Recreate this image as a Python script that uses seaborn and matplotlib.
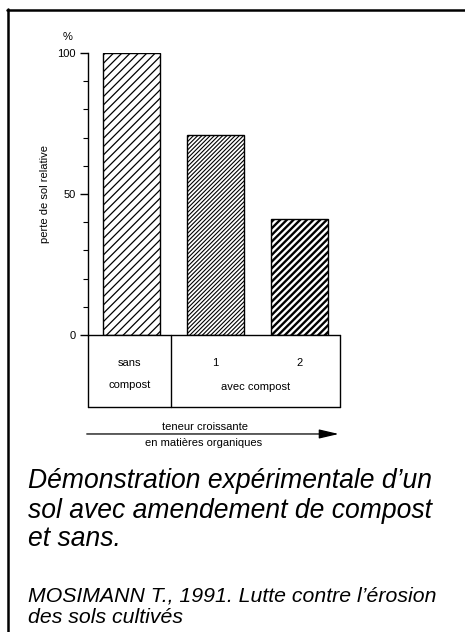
import matplotlib.pyplot as plt
import seaborn as sns
from matplotlib.lines import Line2D
from matplotlib.transforms import blended_transform_factory

# data
groups = ["sans compost", "avec compost 1", "avec compost 2"]
loss_pct = [100, 71, 41]
hatches = ["////", "////////", "/////"]
hatch_widths = [0.9, 0.8, 1.7]
yticks_major = [0, 50, 100]
yticks_minor = [10, 20, 30, 40, 60, 70, 80, 90]

caption_lines = ["Démonstration expérimentale d’un",
                 "sol avec amendement de compost",
                 "et sans."]
source_lines = ["MOSIMANN T., 1991. Lutte contre l’érosion",
                "des sols cultivés"]


def main() -> None:
    sns.set_style("white")
    plt.rcParams["font.family"] = ["Liberation Sans", "DejaVu Sans"]
    for key in ["text.color", "axes.labelcolor", "xtick.color", "ytick.color"]:
        plt.rcParams[key] = "black"

    fig = plt.figure(figsize=(4.65, 6.32), dpi=100)
    ax = fig.add_axes([88 / 465, 1 - 335 / 632, 252 / 465, 282 / 632])

    sns.barplot(x=groups, y=loss_pct, ax=ax, width=0.68, color="white",
                edgecolor="black", linewidth=1.0)
    for patch, h, hw in zip(ax.patches, hatches, hatch_widths):
        patch.set_facecolor("white")
        patch.set_hatch(h)
        try:
            patch.set_hatch_linewidth(hw)
        except AttributeError:
            pass

    ax.set_xlim(-0.52, 2.48)
    ax.set_ylim(0, 100)
    for side in ["top", "right", "bottom"]:
        ax.spines[side].set_visible(False)
    ax.spines["left"].set_linewidth(1.0)
    ax.spines["left"].set_color("black")
    ax.set_xticks([])
    ax.set_yticks(yticks_major)
    ax.set_yticks(yticks_minor, minor=True)
    ax.tick_params(axis="y", which="major", length=6, width=1, direction="out",
                   labelsize=8, pad=3, left=True)
    ax.tick_params(axis="y", which="minor", length=3.5, width=0.8, direction="out",
                   left=True)
    ax.set_ylabel("perte de sol relative", fontsize=8)
    ax.yaxis.set_label_coords(-0.151, 0.5)
    ax.text(-0.083, 1.057, "%", transform=ax.transAxes, fontsize=8,
            ha="center", va="center")

    # category table under the bars
    tr = blended_transform_factory(ax.transData, ax.transAxes)
    x_left, x_div, x_right = -0.52, 0.47, 2.48
    y_top, y_bot = 0.0, -0.255
    box_kw = dict(color="black", lw=1.0, clip_on=False, transform=tr)
    ax.plot([x_left, x_right], [y_top, y_top], **box_kw)
    ax.plot([x_left, x_right], [y_bot, y_bot], **box_kw)
    ax.plot([x_left, x_left], [y_top, y_bot], **box_kw)
    ax.plot([x_right, x_right], [y_top, y_bot], **box_kw)
    ax.plot([x_div, x_div], [y_top, y_bot], **box_kw)

    txt_kw = dict(transform=tr, fontsize=8, ha="center", va="center")
    ax.text((x_left + x_div) / 2, -0.099, "sans", **txt_kw)
    ax.text((x_left + x_div) / 2, -0.177, "compost", **txt_kw)
    ax.text(1, -0.099, "1", **txt_kw)
    ax.text(2, -0.099, "2", **txt_kw)
    ax.text((x_div + x_right) / 2, -0.184, "avec compost", **txt_kw)

    # arrow: increasing organic matter
    ax.annotate("", xy=(0.995, -0.351), xytext=(-0.005, -0.351),
                xycoords="axes fraction", textcoords="axes fraction",
                arrowprops=dict(arrowstyle="-|>,head_length=1.2,head_width=0.28",
                                lw=0.9, color="black", mutation_scale=10,
                                shrinkA=0, shrinkB=0),
                annotation_clip=False)
    ax.text(0.464, -0.326, "teneur croissante", transform=ax.transAxes,
            fontsize=8, ha="center", va="center")
    ax.text(0.458, -0.383, "en matières organiques", transform=ax.transAxes,
            fontsize=8, ha="center", va="center")

    # caption and source, one text per line to place the baselines
    for line, base in zip(caption_lines, [488, 518, 546]):
        fig.text(28 / 465, 1 - base / 632, line, fontsize=19.1, style="italic",
                 ha="left", va="baseline")
    for line, base in zip(source_lines, [601, 623]):
        fig.text(28 / 465, 1 - base / 632, line, fontsize=15.3, style="italic",
                 ha="left", va="baseline")

    # frame of the scanned page (left and top edges visible)
    fig.add_artist(Line2D([8 / 465, 8 / 465], [0, 1 - 9 / 632],
                          transform=fig.transFigure, color="black", lw=1.8))
    fig.add_artist(Line2D([7 / 465, 1], [1 - 9.5 / 632, 1 - 9.5 / 632],
                          transform=fig.transFigure, color="black", lw=1.8))

    fig.savefig("out.png", dpi=100)
    plt.close(fig)


if __name__ == "__main__":
    main()
